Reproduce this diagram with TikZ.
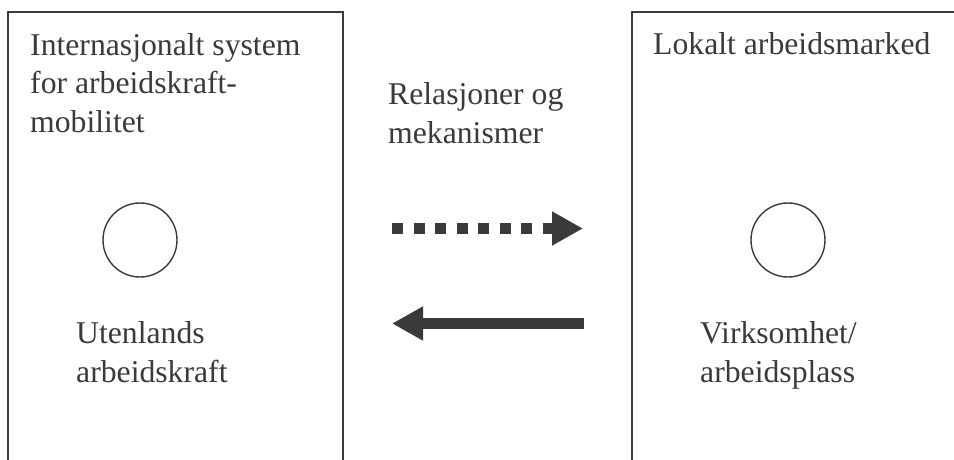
\documentclass[tikz,border=0pt]{standalone}
\usepackage{fontspec}
\setmainfont{Liberation Serif}
\usepackage{xcolor}
\usetikzlibrary{arrows.meta}
\definecolor{inkgray}{HTML}{3A3A3D}

\tikzset{
  label text/.style={anchor=base west, inner sep=0pt, align=left, text=inkgray, font=\fontsize{31.7}{38.5}\selectfont},
  actor/.style={circle, draw=inkgray, line width=1.4pt, minimum size=74pt, inner sep=0pt},
  flow/.style={draw=inkgray, line width=11pt, -{Triangle[length=31pt, width=32pt]}}
}

\begin{document}
\begin{tikzpicture}[x=1pt, y=-1pt]
    \useasboundingbox (0,0) rectangle (954,460);
    \draw[inkgray, line width=1.5pt] (8,462) -- (8,12) -- (343,12) -- (343,462);
    \draw[inkgray, line width=1.5pt] (632,462) -- (632,12) -- (956,12);

    % base anchor sits on the last line
    \node[label text] (intsys) at (30,132) {Internasjonalt system\\for arbeidskraft-\\mobilitet};
    \node[label text] (lokal) at (653,55) {Lokalt arbeidsmarked};
    \node[label text] (relmek) at (388,143) {Relasjoner og\\mekanismer};

    \node[actor] (foreign) at (140,240) {};
    \node[actor] (firm) at (788,240) {};

    \node[label text] (foreignlab) at (76,382) {Utenlands\\arbeidskraft};
    \node[label text] (firmlab) at (700,382) {Virksomhet/\\arbeidsplass};

    \coordinate (outL) at (392,228.5);
    \coordinate (outR) at (583,228.5);
    \coordinate (inR) at (584,323.5);
    \coordinate (inL) at (392,323.5);
    \draw[flow, dash pattern=on 11pt off 10.5pt] (outL) -- (outR);
    \draw[flow] (inR) -- (inL);
\end{tikzpicture}
\end{document}
